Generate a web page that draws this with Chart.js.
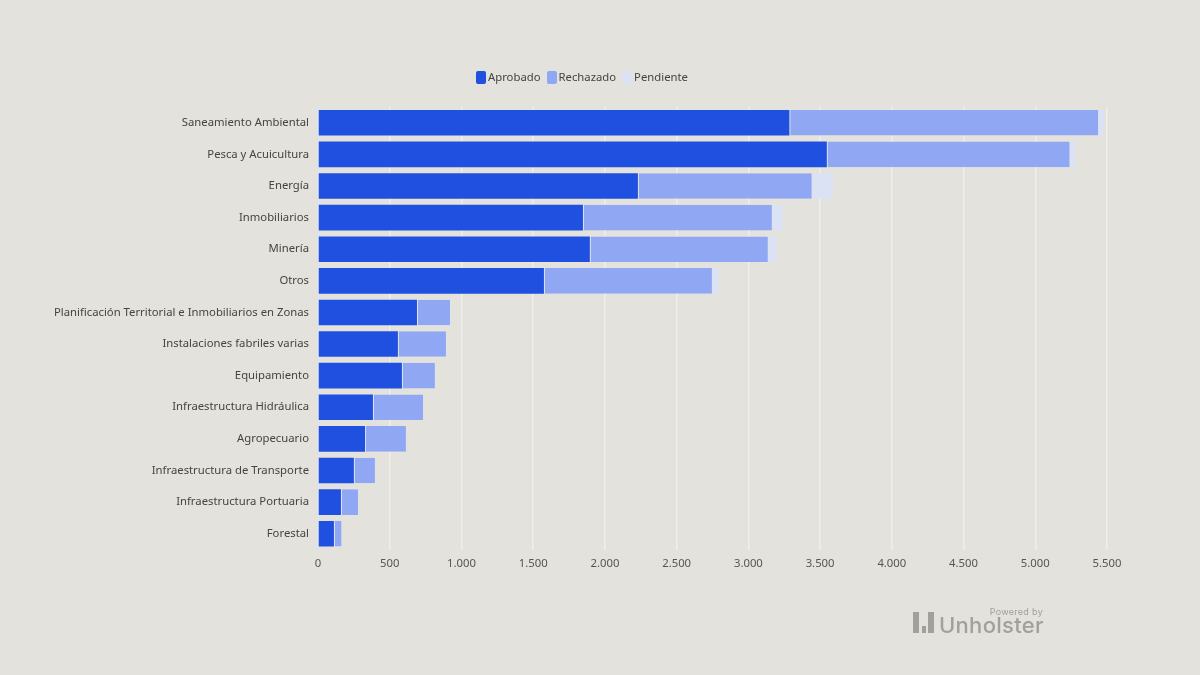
<!DOCTYPE html>
<html lang="es">
<head>
<meta charset="utf-8">
<title>Proyectos por sector</title>
<script src="https://cdn.jsdelivr.net/npm/chart.js@4"></script>
<style>
    html, body { margin: 0; padding: 0; background: #e3e2dc; }
    #wrap { position: relative; width: 1200px; height: 675px; overflow: hidden; }
    #legend { position: absolute; top: 69px; left: 476px; display: flex; font: 11.3px "Noto Sans", sans-serif; color: #444; line-height: 16px; }
    #legend span.item { display: flex; align-items: center; margin-right: 6px; }
    #legend i { display: block; width: 10px; height: 13px; border-radius: 2px; margin-right: 2px; }
    #logo { position: absolute; left: 913px; top: 606px; width: 132px; height: 30px; color: #a0a09c; }
    #logo .by { position: absolute; right: 2px; top: 0; font: 9px Inter, sans-serif; letter-spacing: .3px; }
    #logo .name { position: absolute; left: 26px; top: 6px; font: 500 22px Inter, sans-serif; letter-spacing: .3px; }
    #logo b { position: absolute; bottom: 3px; background: #a0a09c; }
</style>
</head>
<body>
<div id="wrap">
    <canvas id="myChart" width="1200" height="675"></canvas>
    <div id="legend"></div>
    <div id="logo">
        <span class="by">Powered by</span>
        <span class="name">Unholster</span>
        <b style="left:0;width:6px;height:21px"></b>
        <b style="left:9px;width:4px;height:7px"></b>
        <b style="left:15px;width:6px;height:21px"></b>
    </div>
</div>
<script>
const categories = [
    'Saneamiento Ambiental', 'Pesca y Acuicultura', 'Energía', 'Inmobiliarios', 'Minería', 'Otros',
    'Planificación Territorial e Inmobiliarios en Zonas', 'Instalaciones fabriles varias', 'Equipamiento',
    'Infraestructura Hidráulica', 'Agropecuario', 'Infraestructura de Transporte',
    'Infraestructura Portuaria', 'Forestal'
];
const aprobado = [3286, 3547, 2230, 1847, 1895, 1575, 690, 557, 585, 383, 328, 250, 160, 111];
const rechazado = [2153, 1693, 1212, 1317, 1241, 1171, 230, 335, 230, 349, 285, 147, 119, 53];
const pendiente = [40, 40, 147, 76, 63, 48, 5, 4, 3, 3, 3, 2, 2, 2];
const xTickLabels = ['0', '500', '1.000', '1.500', '2.000', '2.500', '3.000', '3.500', '4.000', '4.500', '5.000', '5.500'];

const fontName = '"Noto Sans", sans-serif';

const ctx = document.getElementById('myChart');
const chart = new Chart(ctx, {
    type: 'bar',
    data: {
        labels: categories,
        datasets: [
            { label: 'Aprobado', data: aprobado, backgroundColor: '#2050e0' },
            { label: 'Rechazado', data: rechazado, backgroundColor: '#90a8f4', borderColor: '#dfe4f4', borderWidth: { left: 1 }, borderSkipped: false },
            { label: 'Pendiente', data: pendiente, backgroundColor: '#dbe2f4' }
        ]
    },
    options: {
        indexAxis: 'y',
        responsive: false,
        animation: false,
        barPercentage: 0.81,
        categoryPercentage: 1,
        layout: { padding: { top: 107, right: 93, bottom: 675 - 549.5 - 26, left: 0 } },
        plugins: {
            legend: { display: false },
            tooltip: { enabled: false }
        },
        scales: {
            x: {
                stacked: true,
                min: 0,
                max: 5500,
                afterFit: function(scale) { scale.height = 26; },
                grid: { color: '#efeeea', lineWidth: 1.5, drawTicks: false },
                border: { display: false },
                ticks: {
                    stepSize: 500,
                    padding: 7,
                    maxRotation: 0,
                    color: '#555',
                    font: { family: fontName, size: 11.3 },
                    callback: function(value, index) { return xTickLabels[index]; }
                }
            },
            y: {
                stacked: true,
                afterFit: function(scale) { scale.width = 318; },
                grid: { display: false, drawTicks: false },
                border: { color: '#dfe2ee', width: 1.5 },
                ticks: {
                    padding: 9,
                    autoSkip: false,
                    color: '#444',
                    font: { family: fontName, size: 11.3 }
                }
            }
        }
    }
});

const legendBox = document.getElementById('legend');
chart.data.datasets.forEach(function(ds) {
    const item = document.createElement('span');
    item.className = 'item';
    const box = document.createElement('i');
    box.style.background = ds.backgroundColor;
    item.appendChild(box);
    item.appendChild(document.createTextNode(ds.label));
    legendBox.appendChild(item);
});
</script>
</body>
</html>
